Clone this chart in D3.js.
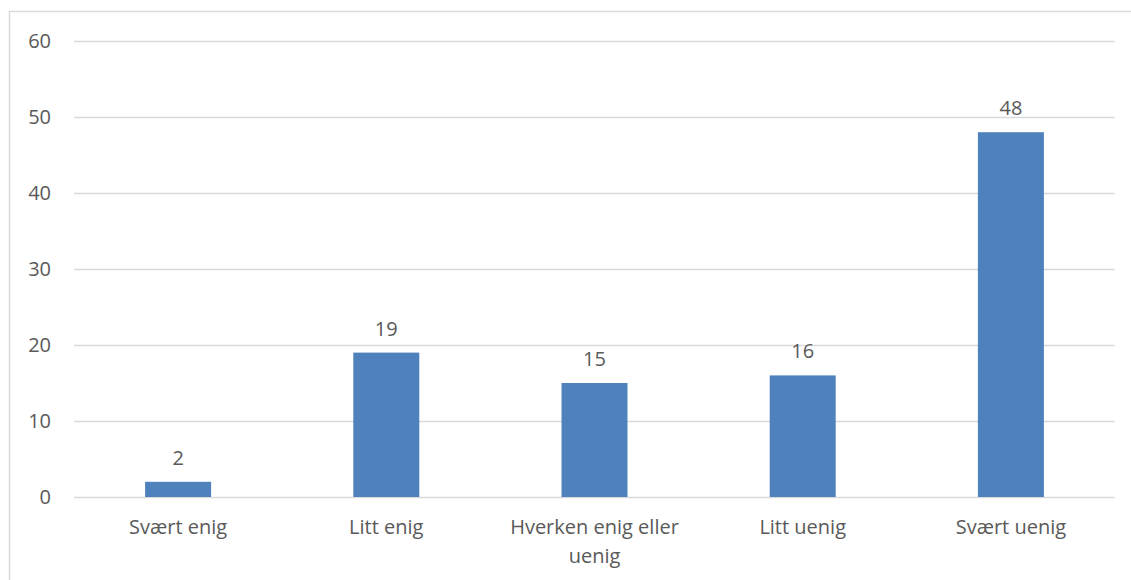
<!DOCTYPE html>
<html>
<head>
<meta charset="utf-8">
<script src="https://cdn.jsdelivr.net/npm/d3@7"></script>
<style>
	body { margin: 0; background: #fff; }
	svg text { font-family: "Open Sans", sans-serif; fill: #595959; }
</style>
</head>
<body>
<div id="chart"></div>
<script>
var categories = ['Svært enig', 'Litt enig', 'Hverken enig eller uenig', 'Litt uenig', 'Svært uenig'];
var values = [2, 19, 15, 16, 48];
var yTicks = [0, 10, 20, 30, 40, 50, 60];

var width = 1131,
	height = 580,
	margin = {top: 41, right: 16, bottom: 83, left: 74};

var svg = d3.select('#chart').append('svg')
	.attr('width', width)
	.attr('height', height);

// outer chart border
svg.append('rect')
	.attr('x', 9.5)
	.attr('y', 11.5)
	.attr('width', width)
	.attr('height', height)
	.attr('fill', 'none')
	.attr('stroke', '#d9d9d9')
	.attr('stroke-width', 1.5);

var x = d3.scaleBand()
	.domain(categories)
	.range([margin.left, width - margin.right])
	.paddingInner(0.683)
	.paddingOuter(0.3415);

var y = d3.scaleLinear()
	.domain([0, 60])
	.range([height - margin.bottom, margin.top]);

// gridlines
svg.append('g')
	.selectAll('line')
	.data(yTicks)
	.enter()
	.append('line')
	.attr('x1', margin.left)
	.attr('x2', width - margin.right)
	.attr('y1', function(d) { return Math.round(y(d)) + 0.5 })
	.attr('y2', function(d) { return Math.round(y(d)) + 0.5 })
	.attr('stroke', '#d9d9d9')
	.attr('stroke-width', 1.3);

// y labels
svg.append('g')
	.selectAll('text')
	.data(yTicks)
	.enter()
	.append('text')
	.attr('x', 51)
	.attr('y', function(d) { return y(d) })
	.attr('dy', '0.35em')
	.attr('text-anchor', 'end')
	.style('font-size', '20px')
	.text(function(d) { return d });

// bars
svg.append('g')
	.selectAll('rect')
	.data(values)
	.enter()
	.append('rect')
	.attr('x', function(d, i) { return x(categories[i]) })
	.attr('width', x.bandwidth())
	.attr('y', function(d) { return y(d) })
	.attr('height', function(d) { return y(0) - y(d) })
	.attr('fill', '#4f81bd');

// value labels
svg.append('g')
	.selectAll('text')
	.data(values)
	.enter()
	.append('text')
	.attr('x', function(d, i) { return x(categories[i]) + x.bandwidth() / 2 })
	.attr('y', function(d) { return y(d) - 17 })
	.attr('text-anchor', 'middle')
	.style('font-size', '20px')
	.text(function(d) { return d });

// category labels (wrapped)
var wrapped = {'Hverken enig eller uenig': ['Hverken enig eller', 'uenig']};
var catLabels = svg.append('g')
	.selectAll('text')
	.data(categories)
	.enter()
	.append('text')
	.attr('x', function(d) { return x(d) + x.bandwidth() / 2 })
	.attr('y', 534)
	.attr('text-anchor', 'middle')
	.style('font-size', '20px');

catLabels.each(function(d) {
	var lines = wrapped[d] || [d];
	var el = d3.select(this);
	lines.forEach(function(l, i) {
		el.append('tspan')
			.attr('x', el.attr('x'))
			.attr('dy', i === 0 ? 0 : 29)
			.text(l);
	});
});
</script>
</body>
</html>
